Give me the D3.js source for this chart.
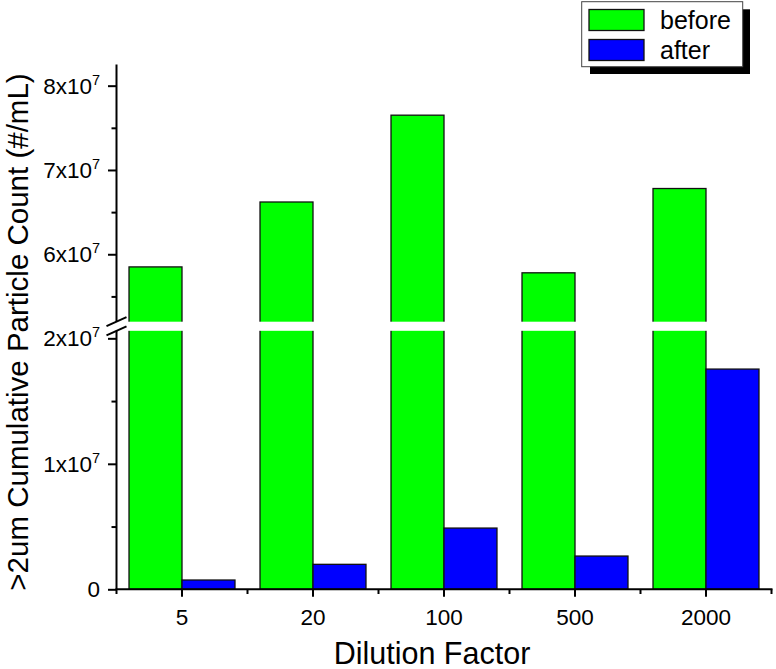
<!DOCTYPE html>
<html>
<head>
<meta charset="utf-8">
<script src="https://cdn.jsdelivr.net/npm/d3@7"></script>
<style>
  html, body { margin: 0; padding: 0; background: #fff; }
  svg { display: block; font-family: "Liberation Sans", Arial, Helvetica, sans-serif; }
</style>
</head>
<body>
<script>
// ---------------- data ----------------
const categories = ["5", "20", "100", "500", "2000"];
const seriesNames = ["before", "after"];
const beforeValues = [5.85e7, 6.62e7, 7.65e7, 5.78e7, 6.78e7];
const afterValues = [7.4e5, 1.99e6, 4.88e6, 2.65e6, 1.755e7];
const seriesColors = ["#00ff00", "#0000ff"];
const lowMajorTicks = [0, 1e7, 2e7];
const lowMinorTicks = [5e6, 1.5e7];
const highMajorTicks = [6e7, 7e7, 8e7];
const highMinorTicks = [5.5e7, 6.5e7, 7.5e7];
const xTitle = "Dilution Factor";
const yTitle = ">2um Cumulative Particle Count (#/mL)";

const W = 776, H = 669;
const FONT = "Liberation Sans, Arial, sans-serif";
const svg = d3.select("body").append("svg").attr("width", W).attr("height", H);

// ---------------- scales ----------------
const axisX = 116.5, axisY = 589.3;
const x = d3.scaleBand().domain(categories).range([116.5, 771.5])
  .paddingInner(0.191).paddingOuter(0.0955);
const x1 = d3.scaleBand().domain(seriesNames).range([0, x.bandwidth()]);
// broken y axis: lower and upper segments
const yLow = d3.scaleLinear().domain([0, 2.06e7]).range([589.3, 330.8]);
const yUp = d3.scaleLinear().domain([5.2e7, 8.25e7]).range([321.7, 64.6]);
const lowMax = yLow.domain()[1];

const data = categories.map((c, i) => ({ cat: c, values: [
  { s: "before", v: beforeValues[i], color: seriesColors[0] },
  { s: "after", v: afterValues[i], color: seriesColors[1] }
]}));

// ---------------- bars ----------------
const groups = svg.append("g").selectAll("g").data(data).join("g")
  .attr("transform", d => `translate(${x(d.cat)},0)`);
groups.selectAll("rect").data(d => d.values).join("rect")
  .attr("x", d => x1(d.s))
  .attr("width", x1.bandwidth())
  .attr("y", d => d.v > lowMax ? yUp(d.v) : yLow(d.v))
  .attr("height", d => yLow(0) - (d.v > lowMax ? yUp(d.v) : yLow(d.v)))
  .attr("fill", d => d.color)
  .attr("stroke", "#111")
  .attr("stroke-width", 1.3);

// white gap for the axis break
svg.append("rect")
  .attr("x", axisX - 2).attr("width", 772 - axisX + 4)
  .attr("y", yUp(yUp.domain()[0])).attr("height", yLow(lowMax) - yUp(yUp.domain()[0]))
  .attr("fill", "#fff");

// ---------------- x axis ----------------
const xAxisG = svg.append("g").attr("transform", `translate(0,${axisY})`);
xAxisG.call(d3.axisBottom(x).tickSize(7.5).tickSizeOuter(0).tickPadding(12.6));
xAxisG.select(".domain").remove();
xAxisG.selectAll(".tick line").attr("stroke", "#000").attr("stroke-width", 2);
xAxisG.selectAll(".tick text").attr("font-size", 22.5).attr("fill", "#000")
  .attr("font-family", FONT);
// minor x ticks at band boundaries
const centers = categories.map(c => x(c) + x.bandwidth() / 2);
const bounds = centers.map(c => c - x.step() / 2).concat([centers[centers.length - 1] + x.step() / 2]);
xAxisG.selectAll(".minor").data(bounds).join("line").attr("class", "minor")
  .attr("x1", d => d).attr("x2", d => d).attr("y1", 0).attr("y2", 4.7)
  .attr("stroke", "#000").attr("stroke-width", 2);
xAxisG.append("line").attr("x1", axisX - 1).attr("x2", bounds[bounds.length - 1] + 1)
  .attr("y1", 0).attr("y2", 0).attr("stroke", "#000").attr("stroke-width", 2);

// ---------------- y axis ----------------
function yAxisPart(scale, major, minor) {
  const g = svg.append("g").attr("transform", `translate(${axisX},0)`);
  g.call(d3.axisLeft(scale).tickValues(major).tickSize(8.5).tickFormat(""));
  g.select(".domain").remove();
  g.selectAll(".tick line").attr("stroke", "#000").attr("stroke-width", 2);
  const gm = svg.append("g").attr("transform", `translate(${axisX},0)`);
  gm.call(d3.axisLeft(scale).tickValues(minor).tickSize(5).tickFormat(""));
  gm.select(".domain").remove();
  gm.selectAll(".tick line").attr("stroke", "#000").attr("stroke-width", 2);
  // labels with superscript exponent
  major.forEach(v => {
    const t = svg.append("text").attr("x", 100).attr("y", scale(v) + 8)
      .attr("text-anchor", "end").attr("font-size", 22.5).attr("fill", "#000");
    if (v === 0) { t.text("0"); return; }
    const exp = Math.floor(Math.log10(v));
    const mant = Math.round(v / Math.pow(10, exp));
    t.append("tspan").text(mant + "x10");
    t.append("tspan").text(exp).attr("font-size", 14.5).attr("dy", -9);
  });
  // axis line
  svg.append("line").attr("x1", axisX).attr("x2", axisX)
    .attr("y1", scale.range()[0]).attr("y2", scale.range()[1])
    .attr("stroke", "#000").attr("stroke-width", 2);
}
yAxisPart(yLow, lowMajorTicks, lowMinorTicks);
yAxisPart(yUp, highMajorTicks, highMinorTicks);
// break marks
const yUpBottom = yUp.range()[0], yLowTop = yLow.range()[1];
svg.append("line").attr("x1", axisX - 10).attr("y1", yUpBottom + 4.5)
  .attr("x2", axisX + 10).attr("y2", yUpBottom - 4.5).attr("stroke", "#000").attr("stroke-width", 2);
svg.append("line").attr("x1", axisX - 10).attr("y1", yLowTop + 4.5)
  .attr("x2", axisX + 10).attr("y2", yLowTop - 4.5).attr("stroke", "#000").attr("stroke-width", 2);

// ---------------- titles ----------------
svg.append("text").attr("x", 432).attr("y", 664)
  .attr("text-anchor", "middle").attr("font-size", 30.5).attr("fill", "#000").text(xTitle);
svg.append("text").attr("transform", `translate(27.5,332) rotate(-90)`)
  .attr("text-anchor", "middle").attr("font-size", 29.5).attr("fill", "#000").text(yTitle);

// ---------------- legend ----------------
const lg = svg.append("g");
lg.append("rect").attr("x", 590).attr("y", 9.3).attr("width", 160).attr("height", 64.7).attr("fill", "#000");
lg.append("rect").attr("x", 581.7).attr("y", 1.7).attr("width", 161).attr("height", 65)
  .attr("fill", "#fff").attr("stroke", "#444").attr("stroke-width", 1);
seriesNames.forEach((s, i) => {
  lg.append("rect").attr("x", 589).attr("y", 9.5 + i * 30).attr("width", 55).attr("height", 21)
    .attr("fill", seriesColors[i]).attr("stroke", "#111").attr("stroke-width", 1.3);
  lg.append("text").attr("x", 660).attr("y", 28.5 + i * 30).attr("font-size", 25)
    .attr("fill", "#000").text(s);
});
</script>
</body>
</html>
